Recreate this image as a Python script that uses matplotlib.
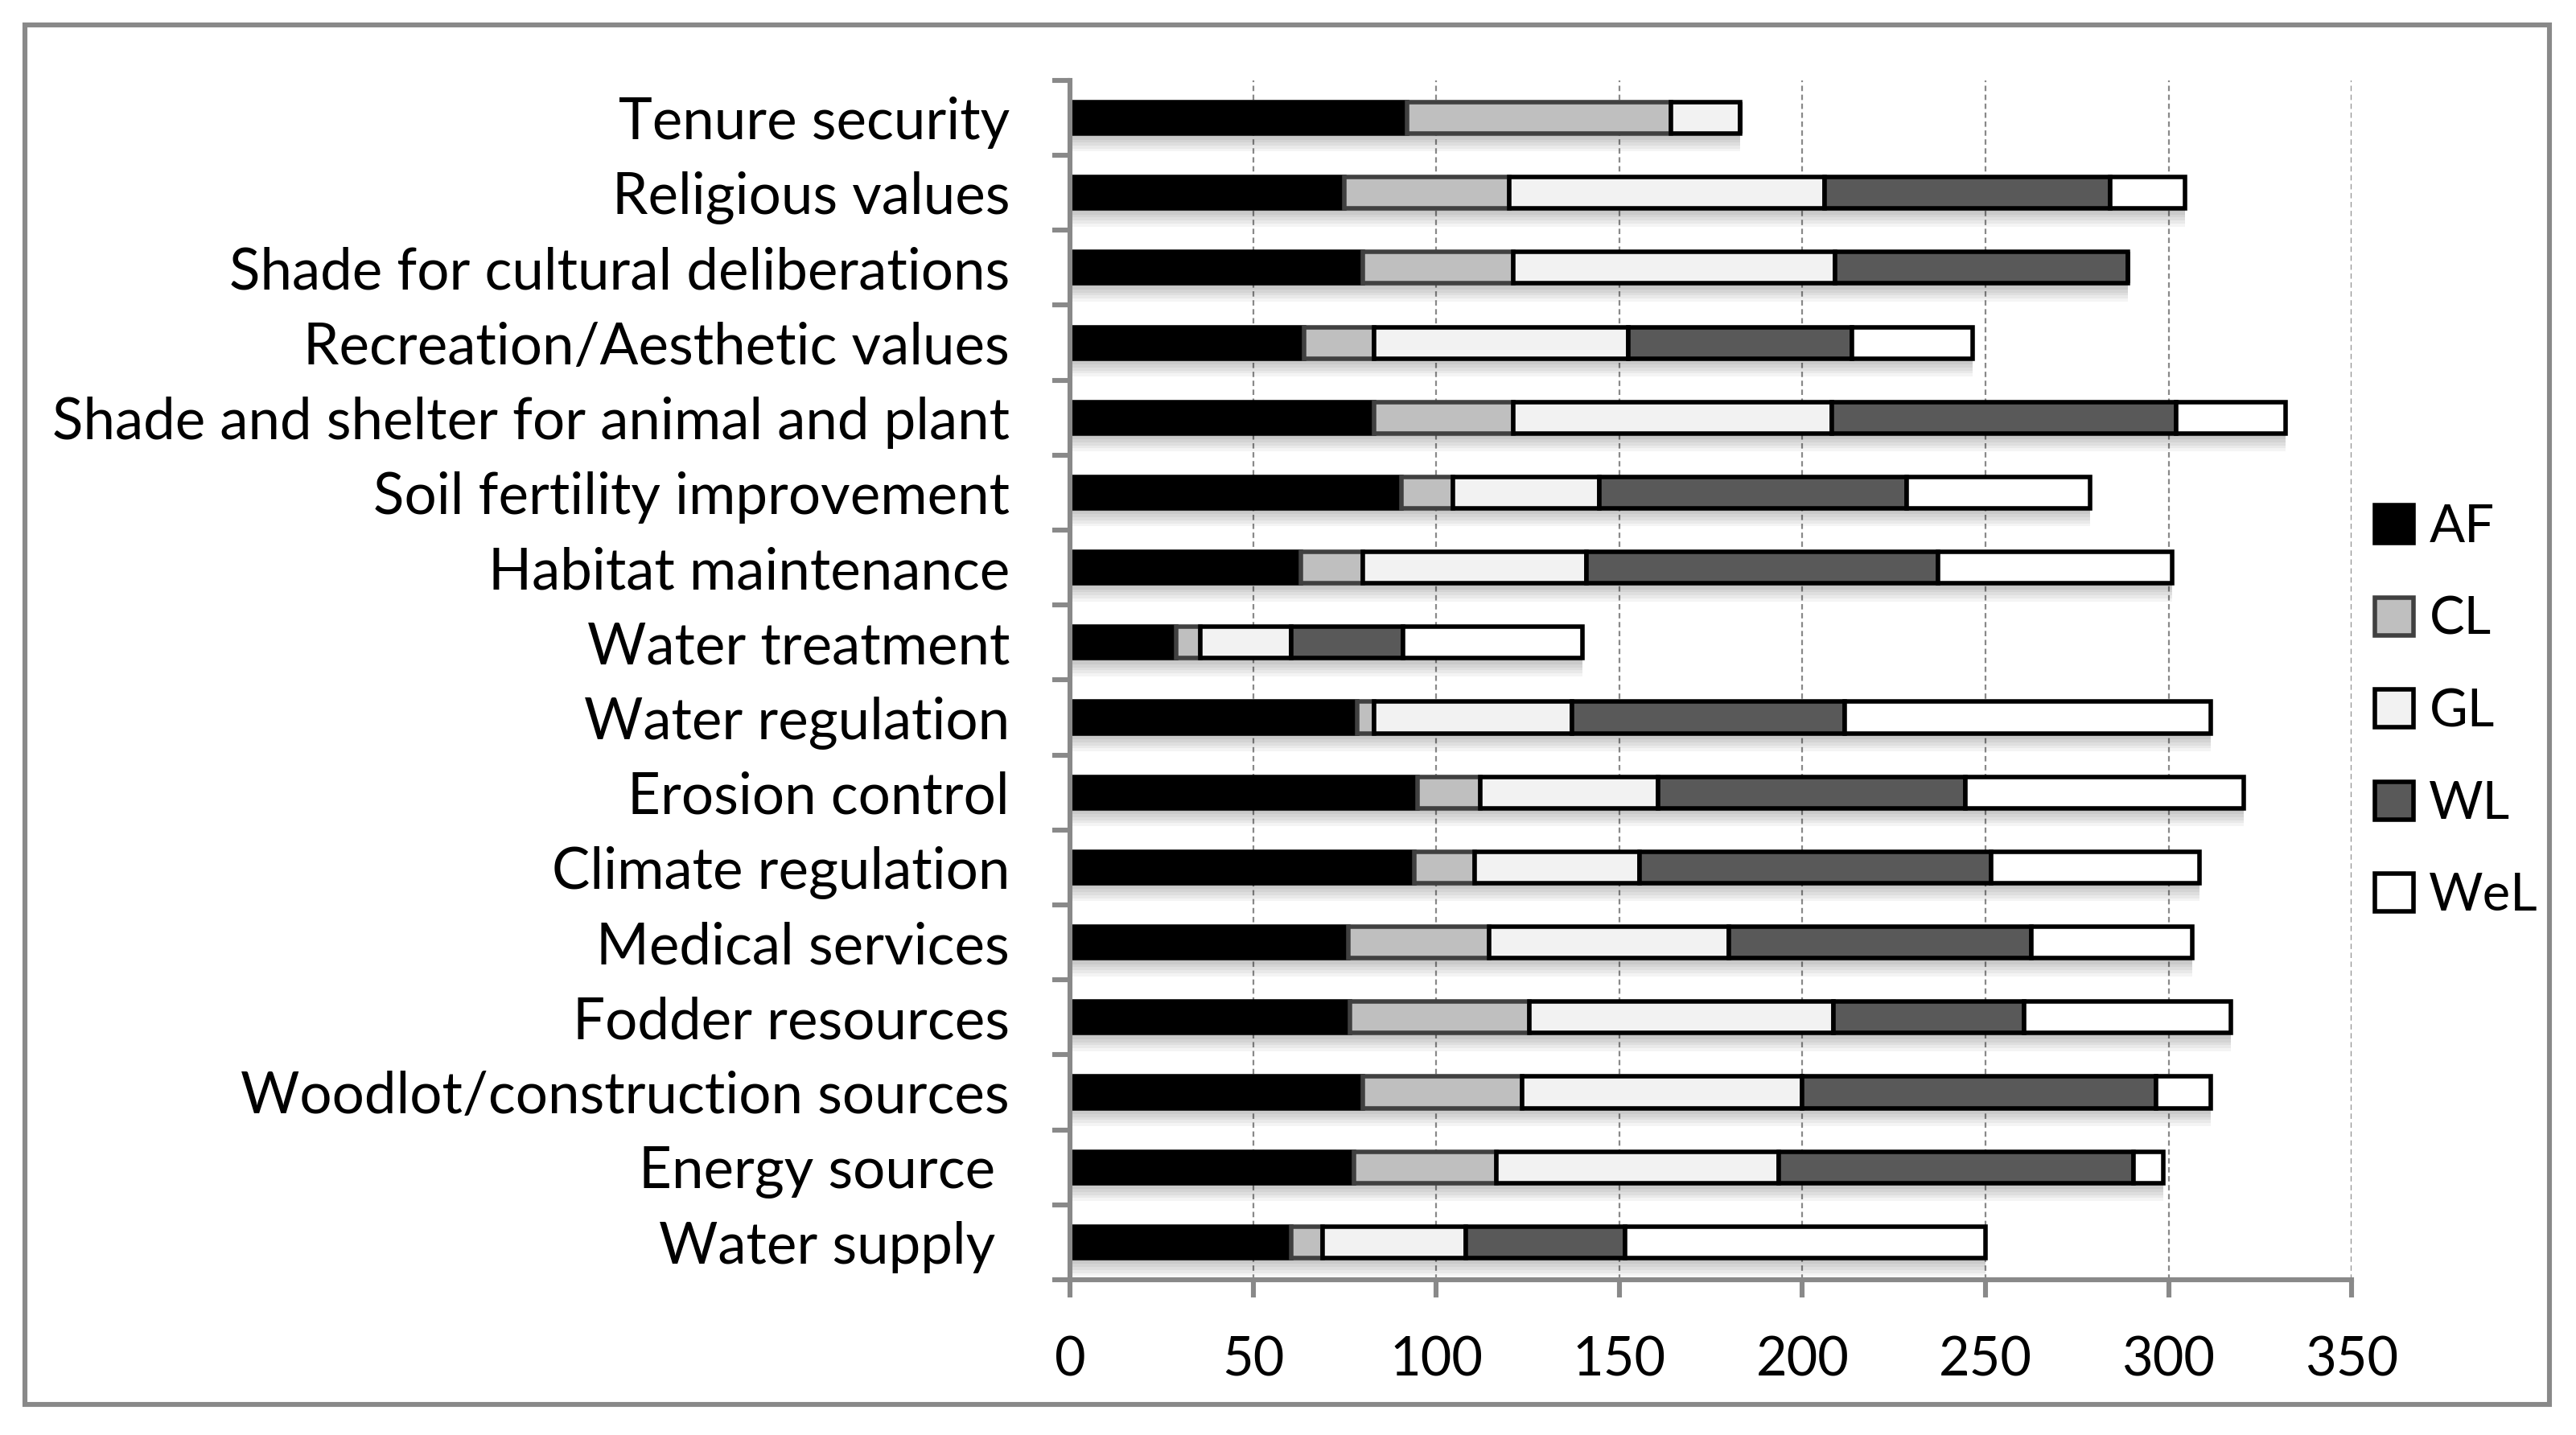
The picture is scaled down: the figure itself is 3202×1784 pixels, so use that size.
import matplotlib.pyplot as plt
import numpy as np
from matplotlib.patches import Rectangle

plt.rcParams['font.family'] = ['Lato', 'DejaVu Sans']

categories = [
    "Tenure security", "Religious values", "Shade for cultural deliberations",
    "Recreation/Aesthetic values", "Shade and shelter for animal and plant",
    "Soil fertility improvement", "Habitat maintenance", "Water treatment",
    "Water regulation", "Erosion control", "Climate regulation",
    "Medical services", "Fodder resources", "Woodlot/construction sources",
    "Energy source ", "Water supply "
]

AF = [92, 75, 80, 64, 83, 90.5, 63, 29, 78.5, 95, 94, 76, 76.5, 80, 77.5, 60.5]
CL = [72, 45, 41, 19, 38, 14, 17, 6.5, 4.5, 17, 16.5, 38.5, 49, 43.5, 39, 8.5]
GL = [19, 86, 88, 69.5, 87, 40, 61, 25, 54, 48.5, 45, 65.5, 83, 76.5, 77, 39]
WL = [0, 78, 80, 61, 94, 84, 96, 30.5, 74.5, 84, 96, 82.5, 52, 96.5, 97, 43.5]
WeL = [0, 20.5, 0, 33, 30, 50, 64, 49, 100, 76, 57, 44, 56.5, 15, 8, 98.5]

series = ["AF", "CL", "GL", "WL", "WeL"]
values = np.array([AF, CL, GL, WL, WeL])

faces = ["#000000", "#bfbfbf", "#f2f2f2", "#595959", "#ffffff"]
edges = ["#000000", "#404040", "#000000", "#000000", "#000000"]
axis_gray = "#898989"

fig = plt.figure(figsize=(16.01, 8.92), dpi=200)
ax = fig.add_axes([0.4154, 0.1082, 0.4975, 0.8358])

y = np.arange(len(categories))
h = 0.42

# soft drop shadow under each bar
totals = values.sum(axis=0)
for k in range(1, 7):
    ax.barh(y + 0.04 * k, totals, height=h, color="black", alpha=0.045,
            linewidth=0, zorder=1)

left = np.zeros(len(categories))
for i, name in enumerate(series):
    ax.barh(y, values[i], left=left, height=h, color=faces[i],
            edgecolor=edges[i], linewidth=2, label=name, zorder=2 + i)
    left = left + values[i]

ax.set_xlim(0, 350)
ax.set_ylim(15.5, -0.5)
ax.set_xticks(np.arange(0, 351, 50))
ax.set_yticks(y)
ax.set_yticklabels(categories)
ax.set_yticks(np.arange(-0.5, 16, 1), minor=True)

ax.tick_params(axis="y", which="major", length=0, pad=27, labelsize=25.5)
ax.tick_params(axis="y", which="minor", length=8, width=2.2, color=axis_gray,
               direction="out")
ax.tick_params(axis="x", which="major", length=8, width=2.2, color=axis_gray,
               direction="out", pad=17, labelsize=24)

for s in ["top", "right"]:
    ax.spines[s].set_visible(False)
for s in ["left", "bottom"]:
    ax.spines[s].set_color(axis_gray)
    ax.spines[s].set_linewidth(2.2)

ax.grid(axis="x", color=axis_gray, linestyle=(0, (3, 2)), linewidth=0.8)
ax.set_axisbelow(True)

fig.legend(loc="center left", bbox_to_anchor=(0.922, 0.504), frameon=False,
           fontsize=23.5, handlelength=0.73, handleheight=0.73,
           handletextpad=0.3, labelspacing=0.85, borderpad=0, borderaxespad=0)

fig.patches.append(Rectangle((0.0097, 0.0213), 0.98, 0.9613,
                             transform=fig.transFigure, fill=False,
                             edgecolor=axis_gray, linewidth=2.2))

fig.savefig("out.png", dpi=200)
